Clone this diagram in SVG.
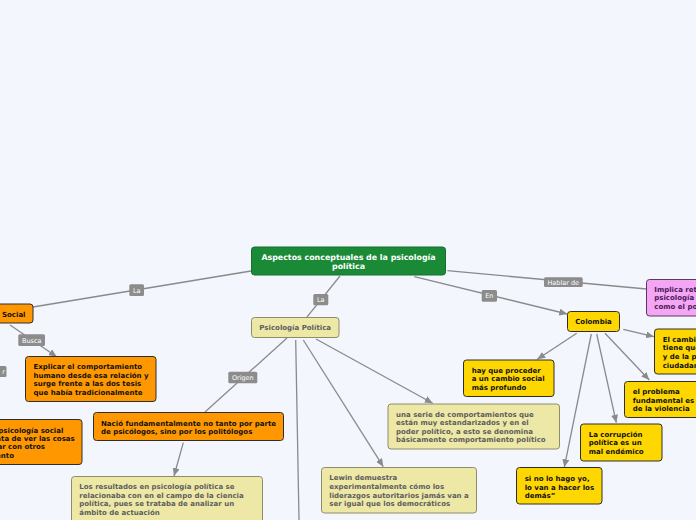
<svg xmlns="http://www.w3.org/2000/svg" width="696" height="520" viewBox="0 0 696 520">
<defs>
<marker id="arr" viewBox="0 0 8 7" refX="8" refY="3.5" markerWidth="8" markerHeight="7" markerUnits="userSpaceOnUse" orient="auto">
<path d="M0,0 L8,3.5 L0,7 z" fill="#8a8a8a"/>
</marker>
<style>
.c{stroke:#8a8a8a;stroke-width:1.3;fill:none}
.a{marker-end:url(#arr)}
.lb{fill:#8c8c8c}
.lt{font-family:"DejaVu Sans",Verdana,sans-serif;font-size:6.5px;fill:#fff;text-anchor:middle}
.t{font-family:"DejaVu Sans",Verdana,sans-serif;font-weight:bold;font-size:7px}
.or{fill:#ff9800;stroke:#2e2e2e;stroke-width:1}
.ye{fill:#ffd700;stroke:#2e2e2e;stroke-width:1}
.kh{fill:#ede8a6;stroke:#8f8c6a;stroke-width:1}
.pk{fill:#f4a6f4;stroke:#5a3a5a;stroke-width:1}
.dk{fill:#111}
.gr{fill:#5e5e5e}
</style>
</defs>
<rect width="696" height="520" fill="#f3f6fd"/>
<g id="connectors">
<line class="c" x1="251" y1="271" x2="33" y2="307"/>
<line class="c" x1="340" y1="276" x2="306.7" y2="317.3"/>
<line class="c a" x1="10" y1="325" x2="56.7" y2="356.7"/>
<line class="c" x1="287" y1="338" x2="205" y2="412"/>
<line class="c a" x1="183.3" y1="442.7" x2="174" y2="476"/>
<line class="c a" x1="303.3" y1="340" x2="383.3" y2="466.7"/>
<line class="c a" x1="316" y1="339" x2="432.7" y2="403.3"/>
<line class="c" x1="295.7" y1="340" x2="299" y2="520"/>
<line class="c a" x1="414.3" y1="276.7" x2="567.3" y2="314"/>
<line class="c" x1="447.3" y1="270.7" x2="646.7" y2="289"/>
<line class="c a" x1="576.7" y1="333.3" x2="537.3" y2="359.3"/>
<line class="c a" x1="591.3" y1="334" x2="564.3" y2="467.3"/>
<line class="c a" x1="596.7" y1="334" x2="616.3" y2="422.7"/>
<line class="c a" x1="605" y1="333.3" x2="649.3" y2="380"/>
<line class="c a" x1="623.3" y1="329.3" x2="654" y2="336.7"/>
<rect class="lb" x="129.3" y="284.3" width="14.7" height="11.7" rx="1.5"/>
<text class="lt" x="136.7" y="292.5">La</text>
<rect class="lb" x="313.3" y="294" width="15" height="11.3" rx="1.5"/>
<text class="lt" x="320.8" y="302">La</text>
<rect class="lb" x="18.3" y="334.3" width="26.7" height="11.7" rx="1.5"/>
<text class="lt" x="31.7" y="342.5">Busca</text>
<rect class="lb" x="228.3" y="371.7" width="29" height="11.6" rx="1.5"/>
<text class="lt" x="242.8" y="379.8">Origen</text>
<rect class="lb" x="481.7" y="290" width="15.3" height="11.7" rx="1.5"/>
<text class="lt" x="489.3" y="298.2">En</text>
<rect class="lb" x="544" y="277.3" width="38.7" height="9.7" rx="1.5"/>
<text class="lt" x="563.3" y="284.5">Hablar de</text>
<rect class="lb" x="-30" y="366" width="36.5" height="11" rx="1.5"/>
<text class="lt" x="5" y="374" style="text-anchor:end">r</text>
</g>
<g id="n-center">
<rect x="251.5" y="247" width="194" height="28" rx="3" fill="#1b8a37" stroke="#137030"/>
<text class="t" x="348.5" y="259.6" style="font-size:7.9px;fill:#fff;text-anchor:middle">Aspectos conceptuales de la psicología</text>
<text class="t" x="348.5" y="269" style="font-size:7.9px;fill:#fff;text-anchor:middle">política</text>
</g>
<g id="n-psico">
<rect class="kh" x="251.5" y="317.5" width="87.5" height="20" rx="3"/>
<text class="t gr" x="295.2" y="330" style="text-anchor:middle">Psicología Política</text>
</g>
<g id="n-social">
<rect class="or" x="-20" y="304" width="53" height="19" rx="3"/>
<text class="t dk" x="2" y="316.8">Social</text>
</g>
<g id="n-explicar">
<rect class="or" x="25.5" y="356.5" width="130.5" height="45" rx="3"/>
<text class="t dk" x="33.5" y="369.3">Explicar el comportamiento</text>
<text class="t dk" x="33.5" y="378">humano desde esa relación y</text>
<text class="t dk" x="33.5" y="386.4">surge frente a las dos tesis</text>
<text class="t dk" x="33.5" y="395">que había tradicionalmente</text>
</g>
<g id="n-left">
<rect class="or" x="-20" y="419.5" width="102" height="45" rx="3"/>
<text class="t dk" x="63.3" y="432.6" style="text-anchor:end">psicología social</text>
<text class="t dk" x="74.7" y="441" style="text-anchor:end">ata de ver las cosas</text>
<text class="t dk" x="45" y="449.4" style="text-anchor:end">ar con otros</text>
<text class="t dk" x="14" y="458" style="text-anchor:end">ento</text>
</g>
<g id="n-nacio">
<rect class="or" x="93.5" y="412.5" width="190" height="28" rx="3"/>
<text class="t dk" x="101" y="425.9">Nació fundamentalmente no tanto por parte</text>
<text class="t dk" x="101" y="434">de psicólogos, sino por los politólogos</text>
</g>
<g id="n-resultados">
<rect class="kh" x="71.5" y="476.5" width="191" height="55" rx="3"/>
<text class="t gr" x="79.3" y="489.3">Los resultados en psicología política se</text>
<text class="t gr" x="79.3" y="498">relacionaba con en el campo de la ciencia</text>
<text class="t gr" x="79.3" y="506.4">política, pues se trataba de analizar un</text>
<text class="t gr" x="79.3" y="515">ámbito de actuación</text>
</g>
<g id="n-lewin">
<rect class="kh" x="321.5" y="467.5" width="155" height="45.5" rx="3"/>
<text class="t gr" x="329.3" y="480.3">Lewin demuestra</text>
<text class="t gr" x="329.3" y="489">experimentalmente cómo los</text>
<text class="t gr" x="329.3" y="497.5">liderazgos autoritarios jamás van a</text>
<text class="t gr" x="329.3" y="506">ser igual que los democráticos</text>
</g>
<g id="n-serie">
<rect class="kh" x="388" y="404" width="171.5" height="45" rx="3"/>
<text class="t gr" x="396" y="416.6">una serie de comportamientos que</text>
<text class="t gr" x="396" y="425.3">están muy estandarizados y en el</text>
<text class="t gr" x="396" y="433.6">poder político, a esto se denomina</text>
<text class="t gr" x="396" y="442.4">básicamente comportamiento político</text>
</g>
<g id="n-colombia">
<rect class="ye" x="567.5" y="311.5" width="52" height="20" rx="3"/>
<text class="t dk" x="593.5" y="324" style="text-anchor:middle">Colombia</text>
</g>
<g id="n-hay">
<rect class="ye" x="463.5" y="360" width="90.5" height="36.5" rx="3"/>
<text class="t dk" x="471.7" y="373">hay que proceder</text>
<text class="t dk" x="471.7" y="381.4">a un cambio social</text>
<text class="t dk" x="471.7" y="390">más profundo</text>
</g>
<g id="n-sino">
<rect class="ye" x="516.5" y="467.5" width="85.5" height="36.5" rx="3"/>
<text class="t dk" x="524.7" y="481">si no lo hago yo,</text>
<text class="t dk" x="524.7" y="489.6">lo van a hacer los</text>
<text class="t dk" x="524.7" y="497.8">demás”</text>
</g>
<g id="n-corrupcion">
<rect class="ye" x="580.5" y="424" width="81.5" height="37" rx="3"/>
<text class="t dk" x="588.7" y="437">La corrupción</text>
<text class="t dk" x="588.7" y="445.4">política es un</text>
<text class="t dk" x="588.7" y="454">mal endémico</text>
</g>
<g id="n-problema">
<rect class="ye" x="624.5" y="381.5" width="90" height="36" rx="3"/>
<text class="t dk" x="632.7" y="394.4">el problema</text>
<text class="t dk" x="632.7" y="402.8">fundamental es</text>
<text class="t dk" x="632.7" y="411.2">de la violencia</text>
</g>
<g id="n-cambio">
<rect class="ye" x="654.5" y="329" width="60" height="45" rx="3"/>
<text class="t dk" x="662.7" y="342">El cambio</text>
<text class="t dk" x="662.7" y="350.4">tiene que</text>
<text class="t dk" x="662.7" y="358.8">y de la p</text>
<text class="t dk" x="662.7" y="367.5">ciudadan</text>
</g>
<g id="n-implica">
<rect class="pk" x="646.5" y="279.5" width="60" height="36.5" rx="3"/>
<text class="t" x="654.3" y="292" fill="#4a1a5a">Implica ret</text>
<text class="t" x="654.3" y="300.4" fill="#4a1a5a">psicología</text>
<text class="t" x="654.3" y="308.8" fill="#4a1a5a">como el po</text>
</g>
</svg>
